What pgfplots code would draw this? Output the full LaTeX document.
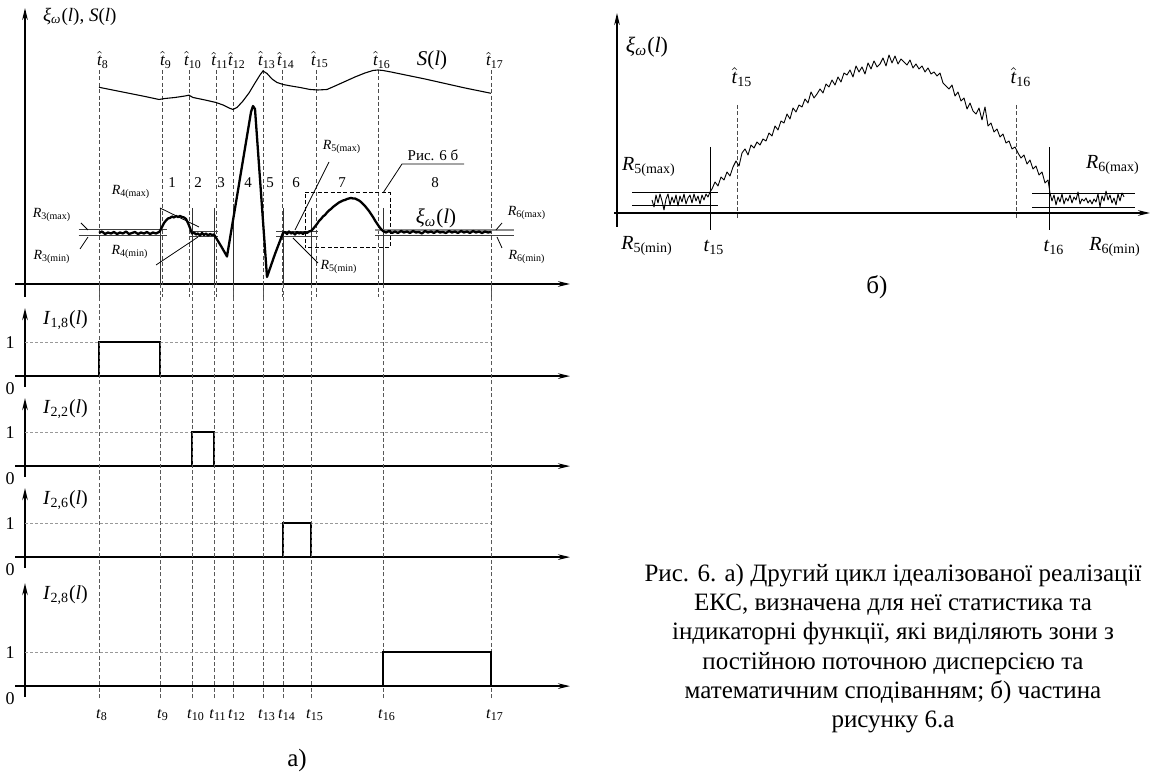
\documentclass[border=0pt]{standalone}
\usepackage{fontspec}
\setmainfont{Liberation Serif}
\usepackage{pgfplots}
\pgfplotsset{compat=1.18}
\usetikzlibrary{arrows.meta}

\newcommand{\xiw}{\textit{ξ}\textsubscript{\textit{ω}}}
\newcommand{\tht}[1]{$\hat{\textit{t}}$\textsubscript{#1}}
\newcommand{\tl}[1]{\textit{t}\textsubscript{#1}}
\newcommand{\Rl}[1]{\textit{R}\textsubscript{#1}}

\pgfplotsset{
  panel/.style={anchor=south west, axis lines=middle, enlargelimits=false, clip=false,
    ticks=none, x=0.5pt,
    axis line style={line width=0.8pt,-{Stealth[length=6pt,width=2.8pt]}}},
  hatline/.style={black!70, line width=0.4pt, dash pattern=on 2pt off 1.2pt, unbounded coords=jump},
  tline/.style={black!65, line width=0.45pt, dash pattern=on 2pt off 1.2pt, unbounded coords=jump},
  gridl/.style={black!40, line width=0.35pt, dash pattern=on 1.5pt off 1pt},
  thin/.style={black, line width=0.4pt, unbounded coords=jump},
  pulse/.style={black, line width=1.2pt, line join=miter},
}

\begin{document}
\begin{tikzpicture}[x=0.5pt,y=0.5pt]
\path[use as bounding box] (0,0) rectangle (1161,774);

% ---------------- main panel a ----------------
\begin{axis}[panel, at={(7.5pt,238.5pt)}, y=0.5pt, xmin=-10, xmax=545, ymin=-13, ymax=276]
\addplot[hatline] coordinates {(74,214)(74,-13) (nan,nan) (137,214)(137,-13) (nan,nan) (164,214)(164,-13) (nan,nan) (191,214)(191,-13) (nan,nan) (208,214)(208,-13) (nan,nan) (238,214)(238,-13) (nan,nan) (257,214)(257,-13) (nan,nan) (291,214)(291,-13) (nan,nan) (353,214)(353,-13) (nan,nan) (466,214)(466,-13)};
% S(l)
\addplot[black, line width=0.55pt] coordinates {(74,196.7)(100,191.5)(120,187.5)(134,184.5)(140,185.5)(150,186.5)(160,188)(164,188.8)(168,186.5)(180,184)(191,181.5)(198,179)(204,176)(208,174.5)(212,176.5)(218,183)(224,191)(230,201)(235,209)(238,213)(242,210.5)(247,205)(252,201.5)(258,199.5)(266,198)(275,196.5)(285,194.5)(293,194)(302,194.5)(310,198)(320,202.5)(330,207)(340,211)(348,213.5)(353,214)(358,213.5)(366,212)(400,205)(440,196)(466,190.7)};
% boundary lines
\addplot[black!80, line width=0.5pt, unbounded coords=jump] coordinates {(135,76)(135,0) (nan,nan) (167,76)(167,0) (nan,nan) (189,76)(189,0) (nan,nan) (208,76)(208,0) (nan,nan) (258,76)(258,0) (nan,nan) (286,76)(286,0) (nan,nan) (358,76)(358,0)};
% R lines
\addplot[black!75, line width=0.5pt, unbounded coords=jump] coordinates {(53.5,54)(142,54) (nan,nan) (53.5,48)(142,48) (nan,nan) (164.6,52.3)(192.7,52.3) (nan,nan) (164.6,47.3)(192.7,47.3) (nan,nan) (251,52)(293,52) (nan,nan) (251,47)(293,47) (nan,nan) (350,48)(489,48)};
\addplot[black!45, line width=1pt] coordinates {(350,54)(489,54)};
% xi(l)
\addplot[black, line width=1.15pt, line join=round] coordinates {
(74,51)(77,52.5)(80,50)(83,51.5)(86,50.5)(89,52)(92,50)(95,51.5)(98,50.5)(101,52.5)(104,50)(107,51)(110,52)(113,50)(116,51.5)(119,50.5)(122,52)(125,50)(128,51.5)(131,50.5)(134,52)
(135,53)(137,57)(139,61)(141,63.5)(143,65.5)(145,66)(147,67.5)(149,66.5)(151,68)(153,67)(155,68)(157,67)(159,66.5)(161,65)(163,61)(165,56)(166,53)(167,50.5)
(169,51.5)(171,49.5)(173,50.5)(175,48.5)(177,51)(179,49)(181,50.5)(183,48.5)(185,50)(187,49)(189,49.5)
(196,38)(202,27.5)(226,172)(228,178)(230,175)(242,7)(250,30)(258,51)
(260,52)(262,50)(264,52.5)(266,50.5)(268,51.5)(270,49.5)(272,52)(274,50.5)(276,51.5)(278,50)(280,52)(282,51)(284,52.5)(286,53)
(288,55)(290,57.5)(292,60)(294,63)(296,65)(298,67.5)(300,69)(302,71.5)(304,73.5)(306,75)(308,77)(310,78.5)(312,80)(314,81.5)(316,82.5)(318,83.5)(320,84)(322,85)(324,85.5)(326,86)(328,85.5)(330,85.5)(332,84.5)(334,83.5)(336,82)(338,80)(340,78)(342,75.5)(344,73)(346,70)(348,67)(350,63.5)(352,60.5)(354,57.5)(356,55)(358,53)
(361,51.5)(364,53)(367,51)(370,52.5)(373,51)(376,53)(379,51.5)(382,52.5)(385,51)(388,53)(391,51.5)(394,52)(397,50.5)(400,53)(403,51.5)(406,52.5)(409,51)(412,53)(415,51.5)(418,52)(421,51)(424,53)(427,51.5)(430,52.5)(433,51)(436,53)(439,51.5)(442,52.5)(445,51)(448,53)(451,51.5)(454,52.5)(457,51)(460,52.5)(463,51.5)(466,52)};
% leaders
\addplot[thin] coordinates {(56,61)(63,54) (nan,nan) (63,47)(55,35) (nan,nan) (135,76)(174,57) (nan,nan) (131,19)(173,47) (nan,nan) (304,122)(270,54) (nan,nan) (293,21)(268,46) (nan,nan) (477,61)(471,54) (nan,nan) (472,47)(477,36)};
\addplot[black, line width=0.5pt, dash pattern=on 2pt off 1.2pt] coordinates {(280,91)(365,91)(365,36)(280,36)(280,91)};
\addplot[thin] coordinates {(439,120)(377,120)(358,91)};
% labels
\node[anchor=west, font=\fontsize{9.5}{11}\selectfont] at (11,267) {\xiw(\textit{l}), \textit{S}(\textit{l})};
\begin{scope}[font=\fontsize{8.5}{10}\selectfont]
\node at (78,224) {\tht{8}}; \node at (141,224) {\tht{9}}; \node at (168,224) {\tht{10}};
\node at (195,224) {\tht{11}}; \node at (212,224) {\tht{12}}; \node at (242,224) {\tht{13}};
\node at (261,224) {\tht{14}}; \node at (295,224) {\tht{15}}; \node at (357,224) {\tht{16}};
\node at (470,224) {\tht{17}};
\end{scope}
\node[font=\fontsize{10.5}{12}\selectfont] at (407,224) {\textit{S}(\textit{l})};
\node[font=\fontsize{10.5}{12}\selectfont] at (411,66) {\xiw(\textit{l})};
\node[font=\fontsize{7.5}{9}\selectfont] at (408,129) {Рис. 6 б};
\begin{scope}[font=\fontsize{7.5}{9}\selectfont]
\node at (147,101) {1}; \node at (173,101) {2}; \node at (196,101) {3}; \node at (223,101) {4};
\node at (245,101) {5}; \node at (271,101) {6}; \node at (317,101) {7}; \node at (410,101) {8};
\end{scope}
\begin{scope}[font=\fontsize{7}{8}\selectfont]
\node at (27,69) {\Rl{3(max)}}; \node at (27,27) {\Rl{3(min)}};
\node at (106,92) {\Rl{4(max)}}; \node at (105,32) {\Rl{4(min)}};
\node at (317,137) {\Rl{5(max)}}; \node at (314,17) {\Rl{5(min)}};
\node at (502,71) {\Rl{6(max)}}; \node at (502,27) {\Rl{6(min)}};
\end{scope}
\end{axis}

% ---------------- indicator I_{1,8} ----------------
\begin{axis}[panel, at={(7.5pt,193.5pt)}, y=17pt, xmin=-10, xmax=545, ymin=-0.32, ymax=2.0]
\addplot[gridl] coordinates {(0,1)(466,1)};
\addplot[pulse] coordinates {(74,0)(74,1)(135,1)(135,0)(466,0)};
\node[anchor=west, font=\fontsize{10}{12}\selectfont] at (11,1.65) {\textit{I}\textsubscript{1,8}(\textit{l})};
\node[font=\fontsize{9}{10}\selectfont] at (-15,1) {1};
\node[font=\fontsize{9}{10}\selectfont] at (-15,-0.38) {0};
\end{axis}

% ---------------- indicator I_{2,2} ----------------
\begin{axis}[panel, at={(7.5pt,148.5pt)}, y=17pt, xmin=-10, xmax=545, ymin=-0.32, ymax=2.0]
\addplot[gridl] coordinates {(0,1)(466,1)};
\addplot[pulse] coordinates {(74,0)(167,0)(167,1)(189,1)(189,0)(466,0)};
\node[anchor=west, font=\fontsize{10}{12}\selectfont] at (11,1.68) {\textit{I}\textsubscript{2,2}(\textit{l})};
\node[font=\fontsize{9}{10}\selectfont] at (-15,1) {1};
\node[font=\fontsize{9}{10}\selectfont] at (-15,-0.38) {0};
\end{axis}

% ---------------- indicator I_{2,6} ----------------
\begin{axis}[panel, at={(7.5pt,103pt)}, y=17pt, xmin=-10, xmax=545, ymin=-0.32, ymax=2.03]
\addplot[gridl] coordinates {(0,1)(466,1)};
\addplot[pulse] coordinates {(74,0)(258,0)(258,1)(286,1)(286,0)(466,0)};
\node[anchor=west, font=\fontsize{10}{12}\selectfont] at (11,1.68) {\textit{I}\textsubscript{2,6}(\textit{l})};
\node[font=\fontsize{9}{10}\selectfont] at (-15,1) {1};
\node[font=\fontsize{9}{10}\selectfont] at (-15,-0.38) {0};
\end{axis}

% ---------------- indicator I_{2,8} ----------------
\begin{axis}[panel, at={(7.5pt,38.5pt)}, y=17pt, xmin=-10, xmax=545, ymin=-0.32, ymax=3.03]
\addplot[tline] coordinates {(74,-0.35)(74,11.82) (nan,nan) (135,-0.35)(135,11.82) (nan,nan) (167,-0.35)(167,11.82) (nan,nan) (189,-0.35)(189,11.82) (nan,nan) (208,-0.35)(208,11.82) (nan,nan) (238,-0.35)(238,11.82) (nan,nan) (258,-0.35)(258,11.82) (nan,nan) (286,-0.35)(286,11.82) (nan,nan) (358,-0.35)(358,11.82) (nan,nan) (466,-0.35)(466,11.82)};
\addplot[gridl] coordinates {(0,1)(466,1)};
\addplot[pulse] coordinates {(74,0)(358,0)(358,1)(466,1)(466,0)};
\node[anchor=west, font=\fontsize{10}{12}\selectfont] at (11,2.68) {\textit{I}\textsubscript{2,8}(\textit{l})};
\node[font=\fontsize{9}{10}\selectfont] at (-15,1) {1};
\node[font=\fontsize{9}{10}\selectfont] at (-15,-0.38) {0};
\begin{scope}[font=\fontsize{8}{9}\selectfont]
\node at (77,-0.85) {\tl{8}}; \node at (138,-0.85) {\tl{9}}; \node at (171,-0.85) {\tl{10}};
\node at (193,-0.85) {\tl{11}}; \node at (212,-0.85) {\tl{12}}; \node at (242,-0.85) {\tl{13}};
\node at (262,-0.85) {\tl{14}}; \node at (290,-0.85) {\tl{15}}; \node at (362,-0.85) {\tl{16}};
\node at (470,-0.85) {\tl{17}};
\end{scope}
\node[font=\fontsize{12.5}{14}\selectfont] at (272,-2.18) {а)};
\end{axis}

% ---------------- panel b ----------------
\begin{axis}[panel, at={(307pt,273.5pt)}, y=0.5pt, xmin=-3, xmax=533, ymin=-14, ymax=200]
\addplot[black, line width=0.5pt, unbounded coords=jump] coordinates {(15,20)(101,20) (nan,nan) (15,7)(101,7) (nan,nan) (415,19)(518,19) (nan,nan) (415,5)(518,5) (nan,nan) (93,66)(93,-17) (nan,nan) (432,66)(432,-17)};
\addplot[hatline] coordinates {(120,108)(120,-7) (nan,nan) (399,108)(399,-7)};
\addplot[black, line width=0.45pt, line join=round] coordinates {
(35,13)(37,6)(39,18)(41,10)(43,19)(45,12)(47,3)(49,14)(51,19)(53,8)(55,16)(57,10)(59,18)(61,7)(63,17)(65,11)(67,19)(69,9)(71,15)(73,18)(75,10)(77,19)(79,12)(81,17)(83,9)(85,18)(87,13)(89,19)(91,16)(93,21)
(95,24)(98,31)(101,27)(104,36)(107,33)(110,41)(113,37)(116,46)(119,52)(122,47)(125,60)(128,64)(131,58)(134,68)(137,65)(140,71)(143,68)(146,74)(149,72)(152,80)(155,77)(158,87)(161,83)(164,92)(167,90)(170,99)(173,94)(176,105)(179,101)(182,108)(185,106)(188,114)(191,110)(194,121)(197,115)(200,119)(203,124)(206,120)(209,129)(212,126)(215,133)(218,128)(221,136)(224,131)(227,140)(230,138)(233,143)(236,136)(239,147)(242,141)(245,146)(248,139)(251,150)(254,144)(257,152)(260,146)(263,149)(266,155)(269,147)(272,158)(275,150)(278,157)(281,149)(284,154)(287,151)(290,148)(293,153)(296,145)(299,149)(302,144)(305,147)(308,141)(311,145)(314,139)(317,141)(320,137)(323,140)(326,130)(329,127)(332,124)(335,128)(338,117)(341,121)(344,112)(347,115)(350,104)(353,110)(356,102)(359,99)(362,105)(365,93)(368,106)(371,87)(374,90)(377,81)(380,84)(383,76)(386,79)(389,70)(392,72)(395,64)(398,66)(401,60)(404,55)(407,58)(410,49)(413,53)(416,44)(419,47)(422,38)(425,41)(428,30)(431,33)(433,20)
(435,12)(437,18)(439,8)(441,16)(443,11)(445,19)(447,9)(449,15)(451,12)(453,18)(455,10)(457,16)(459,13)(461,21)(463,9)(465,14)(467,12)(469,15)(471,10)(473,13)(475,9)(477,14)(479,11)(481,19)(483,6)(485,17)(487,12)(489,22)(491,13)(493,18)(495,10)(497,15)(499,8)(501,19)(503,12)(505,20)(507,16)};
\node[font=\fontsize{11}{13}\selectfont] at (30,166) {\xiw(\textit{l})};
\begin{scope}[font=\fontsize{10}{12}\selectfont]
\node at (125,136) {\tht{15}}; \node at (404,136) {\tht{16}};
\node at (97,-34) {\tl{15}}; \node at (437,-34) {\tl{16}};
\node at (32,46) {\Rl{5(max)}}; \node at (30,-33) {\Rl{5(min)}};
\node at (496,48) {\Rl{6(max)}}; \node at (498,-34) {\Rl{6(min)}};
\end{scope}
\node[font=\fontsize{12.5}{14}\selectfont] at (260,-74) {б)};
\end{axis}

% caption
\node[anchor=north, align=center, font=\fontsize{12.5}{14.6}\selectfont] at (893,217) {Рис. 6. а) Другий цикл ідеалізованої реалізації\\ЕКС, визначена для неї статистика та\\індикаторні функції, які виділяють зони з\\постійною поточною дисперсією та\\математичним сподіванням; б) частина\\рисунку 6.а};
\end{tikzpicture}
\end{document}
